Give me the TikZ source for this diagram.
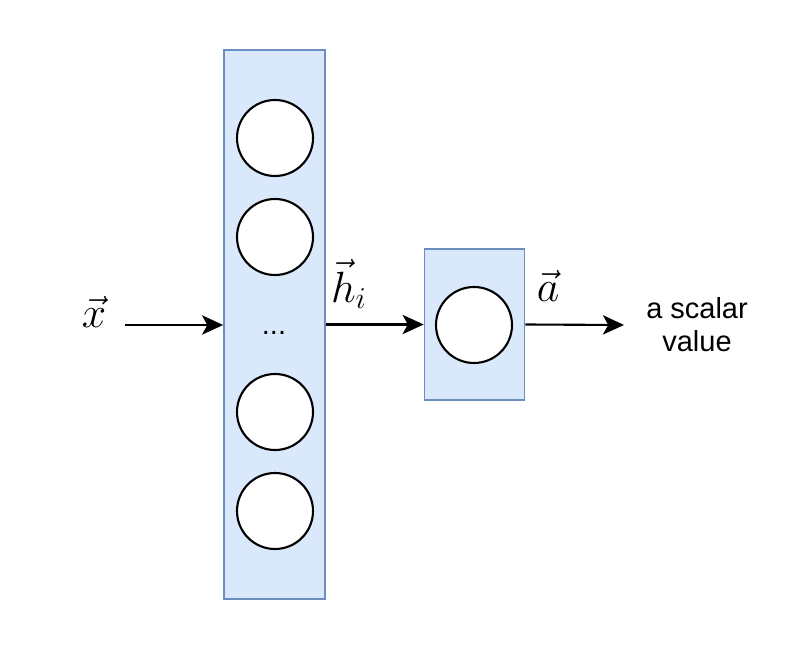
\documentclass[tikz,border=0pt]{standalone}
\usepackage{amsmath}
\usepackage{fontspec}
\setmainfont{Liberation Sans}
\usepackage{tikz}
\usetikzlibrary{arrows.meta}
\definecolor{layerfill}{HTML}{DAE8FC}
\definecolor{layerdraw}{HTML}{6C8EBF}
\def\vlab#1{\scalebox{1.2}{$#1$}}
\tikzstyle{layer}=[draw=layerdraw,fill=layerfill,line width=1pt,rectangle,inner sep=0pt]
\tikzstyle{neuron}=[draw=black,fill=white,line width=1.2pt,circle,minimum size=1.52cm,inner sep=0pt]
\tikzstyle{conn}=[-{Stealth[length=12pt,width=11pt,inset=3pt]},line width=1.2pt]
\tikzstyle{vlabel}=[font=\fontsize{21}{24}\selectfont,inner sep=0pt]
\tikzstyle{plain}=[font=\fontsize{16.5}{18.7}\selectfont,align=center,inner sep=0pt]

\begin{document}
\begin{tikzpicture}[x=0.02cm,y=-0.02cm]
    \useasboundingbox (0,0) rectangle (800,648);
    \node[layer,minimum width=2.02cm,minimum height=10.98cm] (hidden) at (274.5,324.5) {};
    \node[neuron] (h1) at (275,138) {};
    \node[neuron] (h2) at (275,237) {};
    \node[plain,anchor=base] (dots) at (274,334) {...};
    \node[neuron] (h3) at (275,412) {};
    \node[neuron] (h4) at (275,511) {};
    \node[layer,minimum width=2cm,minimum height=3.02cm] (out) at (474.5,324.5) {};
    \node[neuron] (o1) at (474,325) {};
    \coordinate (xin) at (125,325);
    \coordinate (aout) at (624,325);
    \node[vlabel] (xlab) at (94,312) {\vlab{\vec{x}}};
    \node[vlabel] (hlab) at (349,284) {\vlab{\vec{h}_i}};
    \node[vlabel] (alab) at (548,286) {\vlab{\vec{a}}};
    \node[plain] (scalar) at (697,325) {a scalar\\value};
    \draw[conn] (xin) -- (hidden.west |- xin);
    \draw[conn] (hidden.east |- out) -- (out.west);
    \draw[conn] (out.east) -- (aout);
\end{tikzpicture}
\end{document}
